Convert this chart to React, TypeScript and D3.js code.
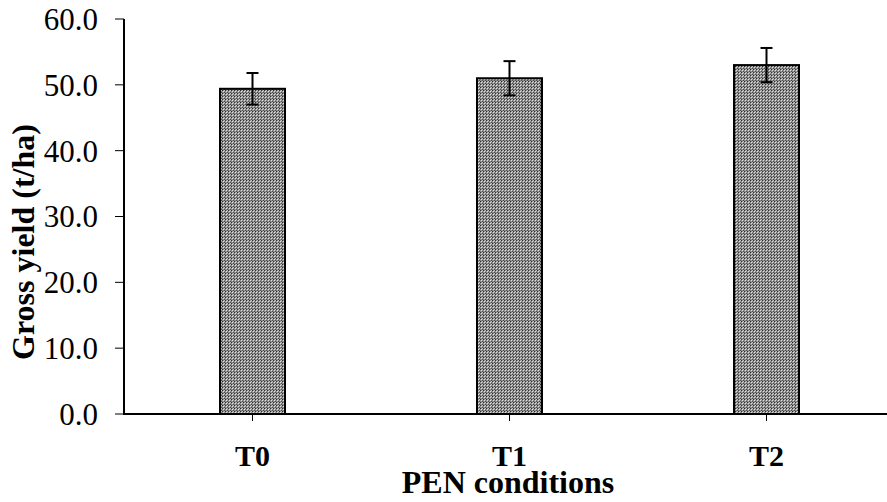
import React from "react";
import * as d3 from "d3";

const categories = ["T0", "T1", "T2"];
const values = [49.4, 51.0, 53.0];
const errors = [2.4, 2.6, 2.6];
const yTicks = [0, 10, 20, 30, 40, 50, 60];

const W = 887;
const H = 502;
const margin = { left: 124, top: 19, bottom: 88 };
const plotRight = 895;

export default function App() {
  const x = d3.scaleBand<string>().domain(categories).range([margin.left, plotRight]).paddingInner(0).paddingOuter(0);
  const y = d3.scaleLinear().domain([0, 60]).range([H - margin.bottom, margin.top]);
  const barW = 65;
  const font = "'Liberation Serif', 'Times New Roman', serif";
  const y0 = y(0);
  return (
    <svg width={W} height={H} style={{ position: "absolute", left: 0, top: 0, background: "#fff" }}>
      <defs>
        <pattern id="dots" width="3" height="3" patternUnits="userSpaceOnUse">
          <rect width="3" height="3" fill="#8c8c8c" />
          <rect x="0" y="0" width="1" height="1" fill="#2c2c2c" />
          <rect x="1" y="1" width="1" height="1" fill="#e0e0e0" />
          <rect x="2" y="2" width="1" height="1" fill="#4c4c4c" />
          <rect x="2" y="0" width="1" height="1" fill="#c4c4c4" />
        </pattern>
      </defs>
      {categories.map((c, i) => {
        const cx = x(c)! + x.bandwidth() / 2;
        const top = y(values[i]);
        return (
          <g key={c}>
            <rect x={cx - barW / 2} y={top} width={barW} height={y0 - top} fill="url(#dots)" stroke="#000" strokeWidth={2} />
            <line x1={cx} x2={cx} y1={y(values[i] + errors[i])} y2={y(values[i] - errors[i])} stroke="#000" strokeWidth={2} />
            <line x1={cx - 6} x2={cx + 6} y1={y(values[i] + errors[i])} y2={y(values[i] + errors[i])} stroke="#000" strokeWidth={2} />
            <line x1={cx - 6} x2={cx + 6} y1={y(values[i] - errors[i])} y2={y(values[i] - errors[i])} stroke="#000" strokeWidth={2} />
            <line x1={cx} x2={cx} y1={y0} y2={y0 + 7} stroke="#000" strokeWidth={1} />
            <text x={cx} y={466} textAnchor="middle" fontFamily={font} fontWeight="bold" fontSize={30}>{c}</text>
          </g>
        );
      })}
      {yTicks.map((t) => (
        <g key={t}>
          <line x1={margin.left - 9} x2={margin.left} y1={y(t)} y2={y(t)} stroke="#000" strokeWidth={1} />
          <text x={98} y={y(t)} dy="0.35em" textAnchor="end" fontFamily={font} fontSize={31}>{d3.format(".1f")(t)}</text>
        </g>
      ))}
      <line x1={margin.left} x2={margin.left} y1={margin.top} y2={y0 + 1} stroke="#000" strokeWidth={2} />
      <line x1={margin.left} x2={W} y1={y0} y2={y0} stroke="#000" strokeWidth={2} />
      <text transform={`translate(34, ${242}) rotate(-90)`} textAnchor="middle" fontFamily={font} fontWeight="bold" fontSize={32}>Gross yield (t/ha)</text>
      <text x={508} y={493} textAnchor="middle" fontFamily={font} fontWeight="bold" fontSize={32}>PEN conditions</text>
    </svg>
  );
}
